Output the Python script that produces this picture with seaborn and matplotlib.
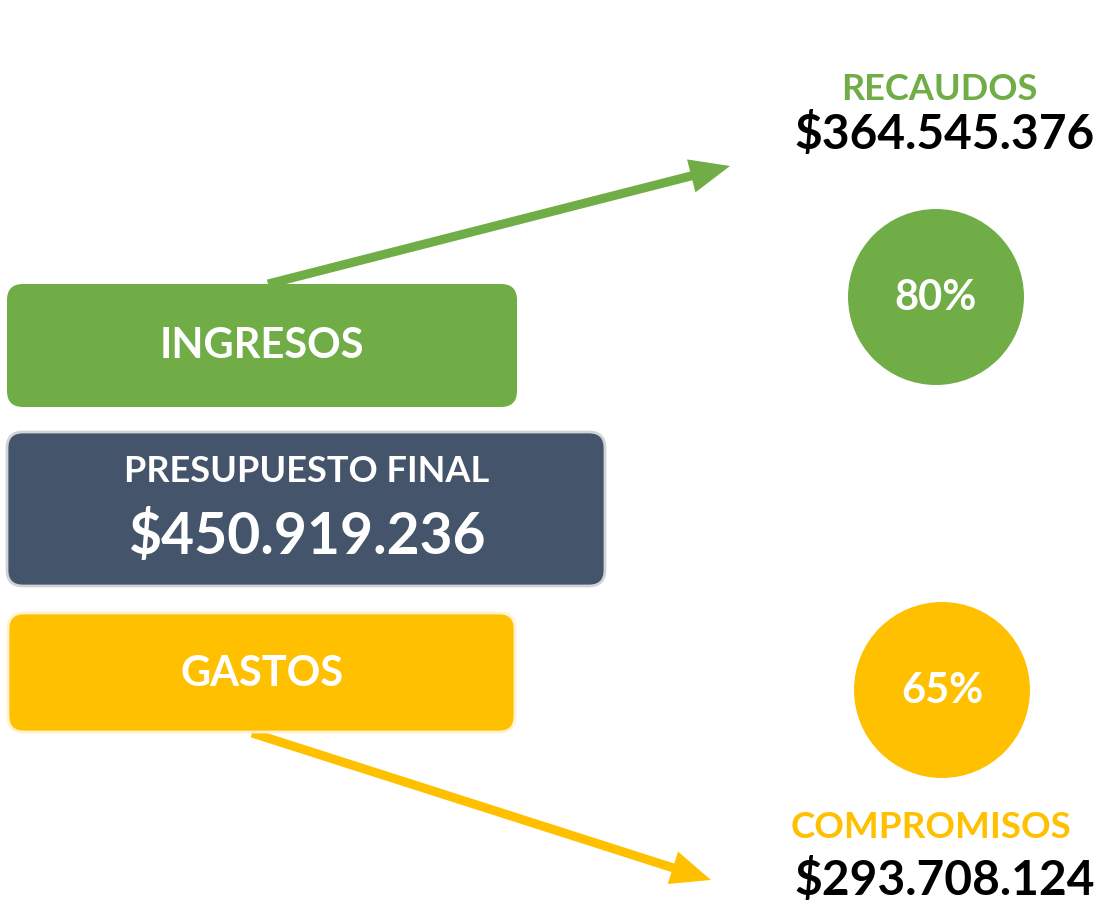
import matplotlib
matplotlib.use("Agg")
import matplotlib.pyplot as plt
from matplotlib.patches import FancyBboxPatch, FancyArrow
import seaborn as sns
import pandas as pd

# ---- data ----
box_labels = ["INGRESOS", "PRESUPUESTO FINAL", "GASTOS"]
budget_total = "$450.919.236"
result_labels = ["RECAUDOS", "COMPROMISOS"]
result_values = ["$364.545.376", "$293.708.124"]
percent_values = [80, 65]

GREEN = "#70AD47"
NAVY = "#44546A"
GOLD = "#FFC000"

sns.set_theme(style="white")
plt.rcParams["font.family"] = ["Lato", "DejaVu Sans"]

fig = plt.figure(figsize=(11.02, 9.08), dpi=100)
ax = fig.add_axes([0, 0, 1, 1])
ax.set_xlim(0, 1102)
ax.set_ylim(908, 0)
ax.set_aspect("equal")
ax.axis("off")

# boxes
boxes = [
    (7, 284, 510, 123, GREEN, "none"),
    (7, 432, 598, 154, NAVY, "#D0D3D8"),
    (8, 613, 507, 119, GOLD, "#FFF2CC"),
]
for x, y, w, h, c, ec in boxes:
    ax.add_patch(FancyBboxPatch((x, y), w, h, boxstyle="round,pad=0,rounding_size=16",
                                fc=c, ec=ec, lw=2, zorder=2))

ax.text(262, 346, box_labels[0], color="white", fontsize=30, fontweight="bold",
        ha="center", va="center", zorder=3)
ax.text(307, 472, box_labels[1], color="white", fontsize=26, fontweight="bold",
        ha="center", va="center", zorder=3)
ax.text(307, 537, budget_total, color="white", fontsize=41, fontweight="bold",
        ha="center", va="center", zorder=3)
ax.text(262, 674, box_labels[2], color="white", fontsize=30, fontweight="bold",
        ha="center", va="center", zorder=3)

# arrows
ax.add_patch(FancyArrow(268, 284, 730 - 268, 166 - 284, width=9, head_width=34,
                        head_length=40, length_includes_head=True, color=GREEN, lw=0, zorder=1))
ax.add_patch(FancyArrow(252, 733, 711 - 252, 880 - 733, width=9, head_width=34,
                        head_length=40, length_includes_head=True, color=GOLD, lw=0, zorder=1))

# circles via seaborn
df = pd.DataFrame({"x": [936, 942], "y": [297, 690], "pct": percent_values,
                   "kind": result_labels})
diam_pt = 176 * 72 / 100
sns.scatterplot(data=df, x="x", y="y", hue="kind", palette=[GREEN, GOLD], s=diam_pt ** 2,
                linewidth=0, legend=False, ax=ax, zorder=2)
ax.set_xlim(0, 1102)
ax.set_ylim(908, 0)
ax.axis("off")
for xi, yi, p in zip(df["x"], df["y"], df["pct"]):
    ax.text(xi, yi + 1, f"{p}%", color="white", fontsize=30, fontweight="bold",
            ha="center", va="center", zorder=3)

# result labels
ax.text(939, 89, result_labels[0], color=GREEN, fontsize=26, fontweight="bold",
        ha="center", va="center")
ax.text(945, 135, result_values[0], color="black", fontsize=34.5, fontweight="bold",
        ha="center", va="center")
ax.text(931, 827, result_labels[1], color=GOLD, fontsize=26.5, fontweight="bold",
        ha="center", va="center")
ax.text(945, 880, result_values[1], color="black", fontsize=34.5, fontweight="bold",
        ha="center", va="center")

fig.savefig("out.png", dpi=100, facecolor="white")
